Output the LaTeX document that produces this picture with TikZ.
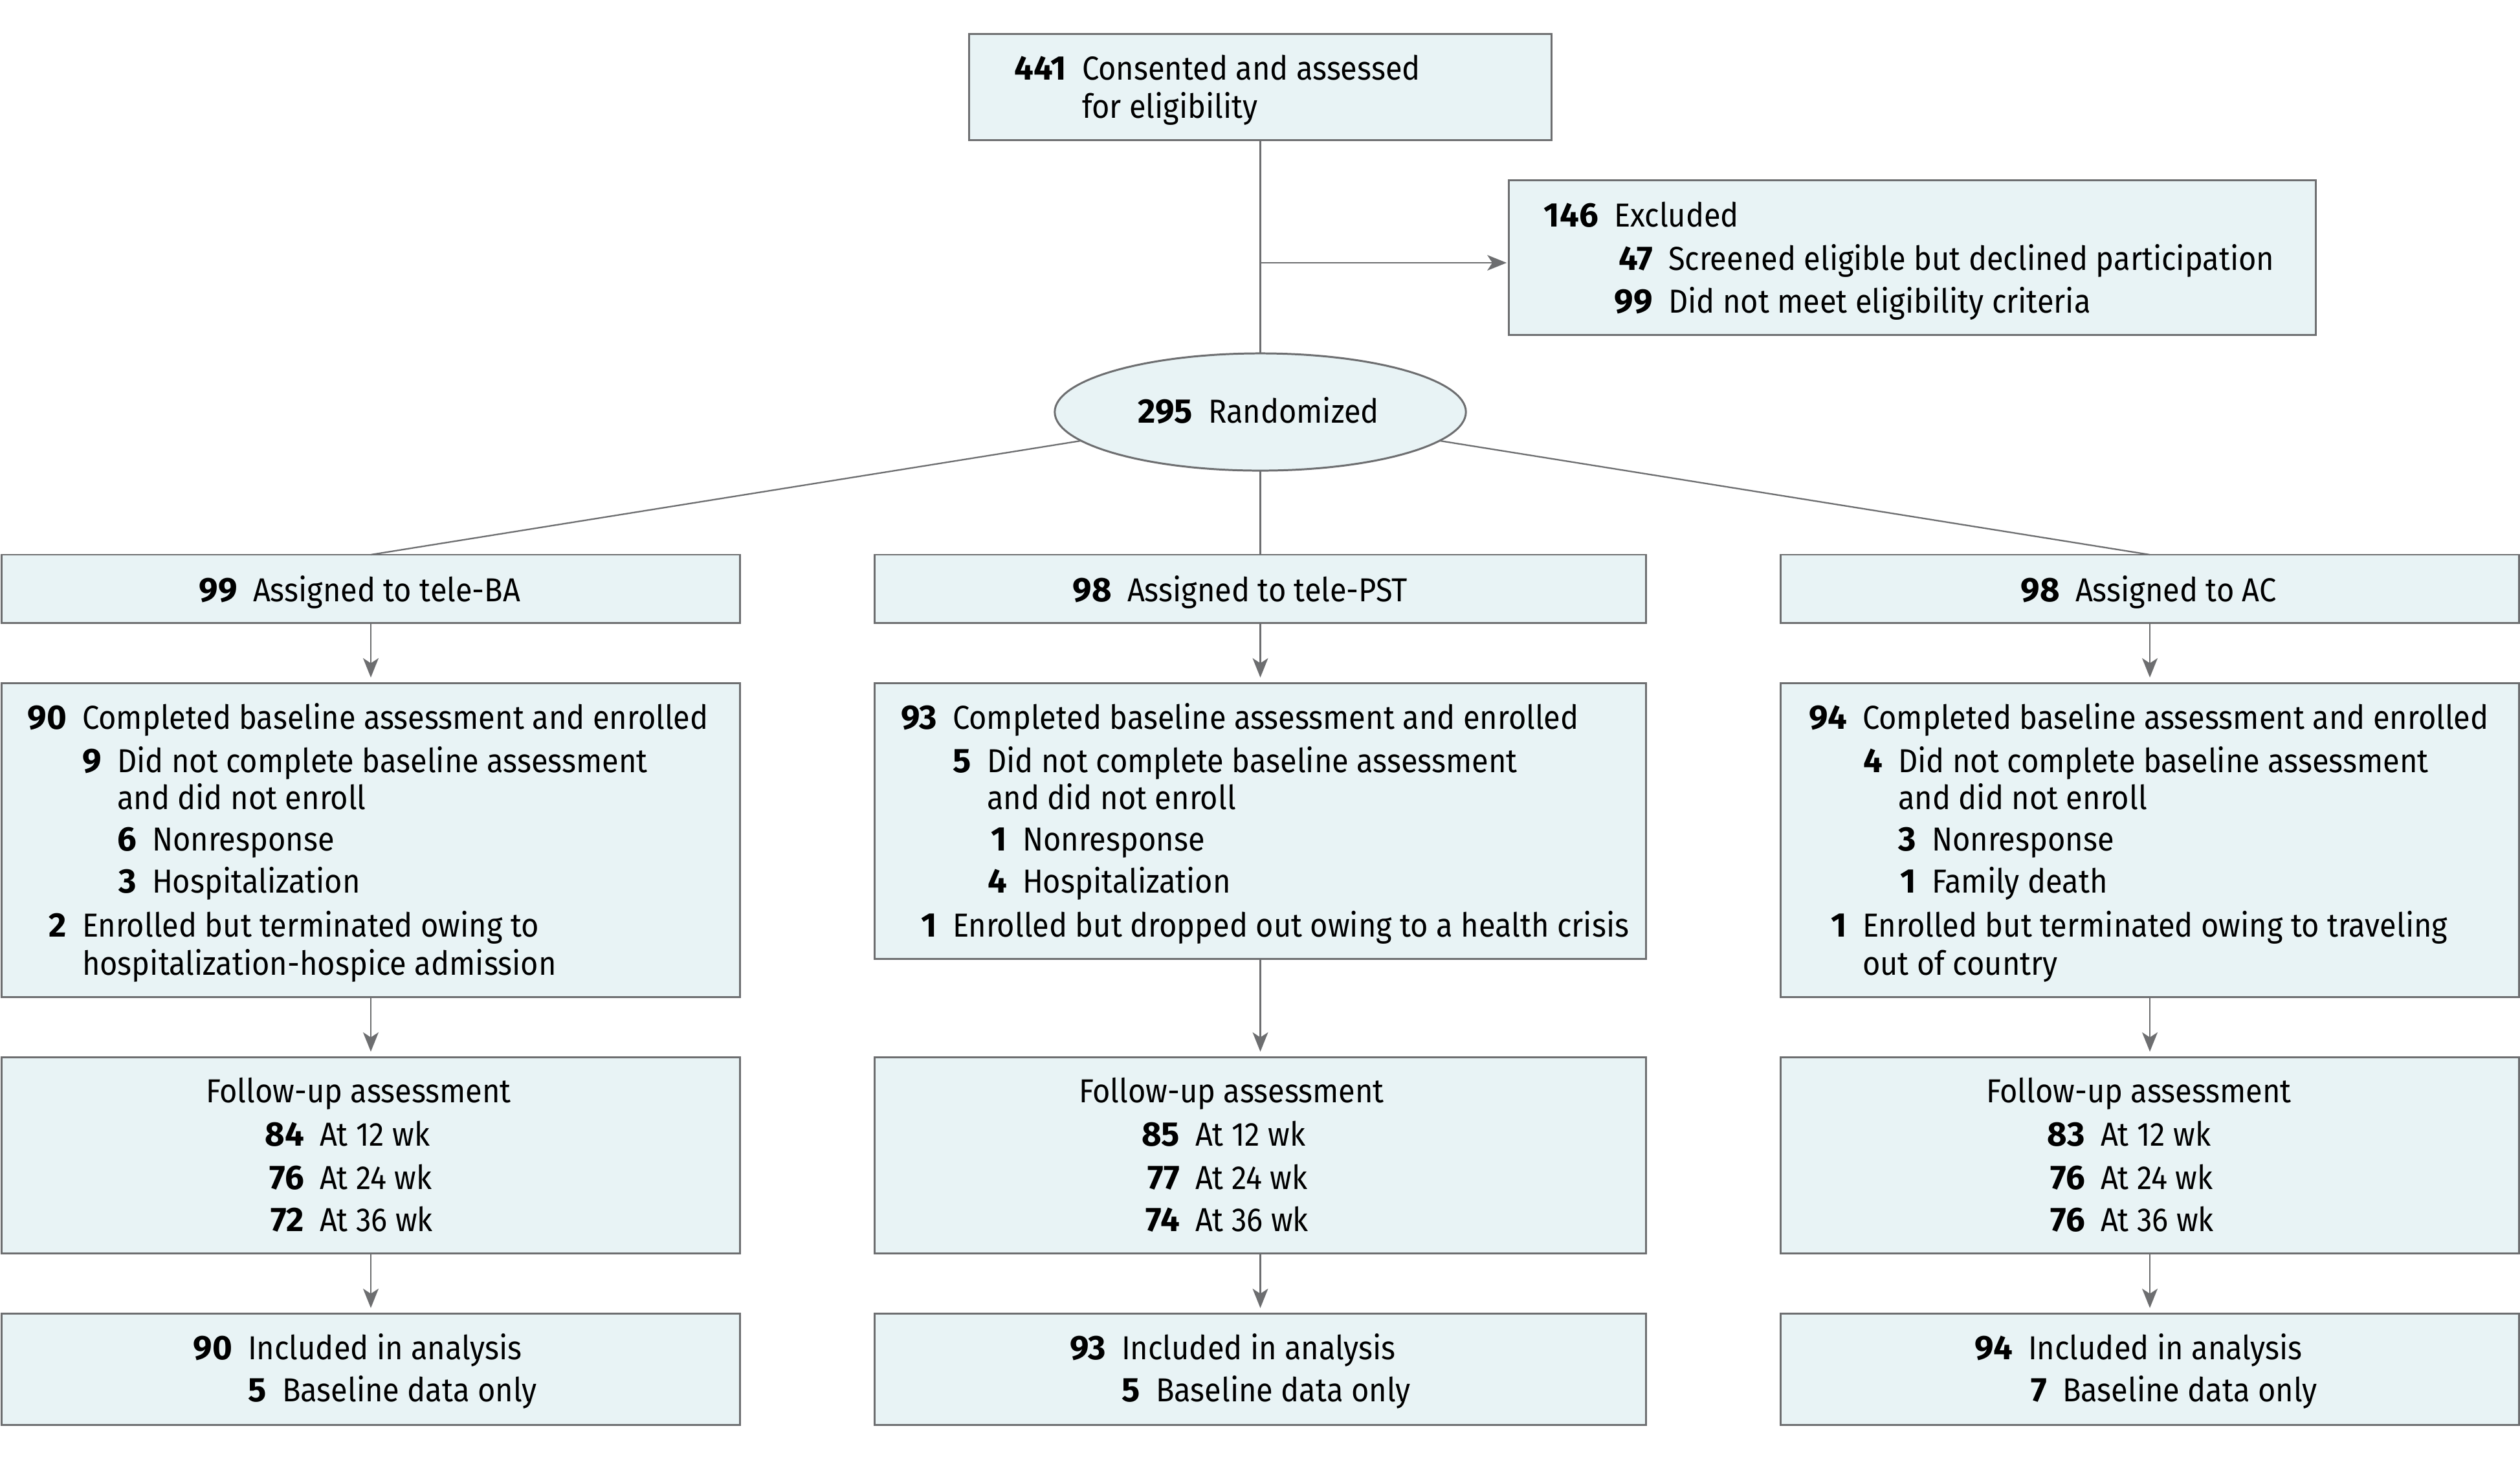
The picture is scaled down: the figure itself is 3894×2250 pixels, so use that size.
\documentclass[tikz,border=0pt]{standalone}
\usepackage{fontspec}
\setmainfont{Fira Sans}[FakeStretch=0.915]
\newfontfamily\numfont{Fira Sans}
\usetikzlibrary{arrows.meta,shapes.geometric}
\definecolor{boxfill}{HTML}{E8F3F5}
\definecolor{edge}{HTML}{6D6E70}
\tikzset{
 bx/.style={draw=edge, fill=boxfill, line width=0.85pt, rectangle, inner sep=0pt, outer sep=0pt},
 ell/.style={draw=edge, fill=boxfill, line width=0.85pt, ellipse, inner sep=0pt, outer sep=0pt},
 txt/.style={inner sep=0pt, outer sep=0pt, font=\fontsize{14.6}{17}\selectfont, text=black},
 num/.style={inner sep=0pt, outer sep=0pt, font=\numfont\fontsize{15}{17}\selectfont\bfseries, text=black},
 conn/.style={draw=edge, line width=0.65pt},
 arr/.style={conn, -{Stealth[length=8.5pt,width=6.8pt,inset=2.2pt]}, shorten >=2.6pt},
}
\newcommand\numline[5]{%
 \node[txt, anchor=base west] (#1) at (#2,#3) {#5};
 \node[num, anchor=base east] (#1n) at ([xshift=-0.24cm]#1.base west) {#4};}
\newcommand\plainline[4]{\node[txt, anchor=base west] (#1) at (#2,#3) {#4};}
\begin{document}
\begin{tikzpicture}[x=0.01cm, y=-0.01cm]
\fill[white] (0,0) rectangle (3894,2250);
\useasboundingbox (0,0) rectangle (3894,2250);

% ---- boxes ----
\node[bx, minimum width=8.99cm, minimum height=1.63cm] (top) at (1947.5,134.5) {};
\node[bx, minimum width=12.46cm, minimum height=2.38cm] (excl) at (2955,398) {};
\node[ell, minimum width=6.35cm, minimum height=1.81cm] (rand) at (1947.5,636.5) {};

\node[bx, minimum width=11.40cm, minimum height=1.05cm] (aL) at (573,909.5) {};
\node[bx, minimum width=11.91cm, minimum height=1.05cm] (aM) at (1947.5,909.5) {};
\node[bx, minimum width=11.40cm, minimum height=1.05cm] (aR) at (3322,909.5) {};

\node[bx, minimum width=11.40cm, minimum height=4.84cm] (bL) at (573,1298) {};
\node[bx, minimum width=11.91cm, minimum height=4.255cm] (bM) at (1947.5,1268.75) {};
\node[bx, minimum width=11.40cm, minimum height=4.84cm] (bR) at (3322,1298) {};

\node[bx, minimum width=11.40cm, minimum height=3.025cm] (fL) at (573,1785.25) {};
\node[bx, minimum width=11.91cm, minimum height=3.025cm] (fM) at (1947.5,1785.25) {};
\node[bx, minimum width=11.40cm, minimum height=3.025cm] (fR) at (3322,1785.25) {};

\node[bx, minimum width=11.40cm, minimum height=1.71cm] (nL) at (573,2115.5) {};
\node[bx, minimum width=11.91cm, minimum height=1.71cm] (nM) at (1947.5,2115.5) {};
\node[bx, minimum width=11.40cm, minimum height=1.71cm] (nR) at (3322,2115.5) {};

% ---- connectors ----
\coordinate (br) at (1947.5,406);
\draw[conn] (top.south) -- (rand.north);
\draw[arr, shorten >=1pt] (br) -- (br -| excl.west);
\draw[conn] (rand) -- (aL.north);
\draw[conn] (rand.south) -- (aM.north);
\draw[conn] (rand) -- (aR.north);
\foreach \c in {L,M,R}{
  \draw[arr] (a\c.south) -- (b\c.north);
  \draw[arr] (b\c.south) -- (f\c.north);
  \draw[arr] (f\c.south) -- (n\c.north);
}

% ---- text: top ----
\numline{t1}{1672}{123}{441}{Consented and assessed}
\plainline{t2}{1672}{182}{for eligibility}
\numline{e1}{2494}{350}{146}{Excluded}
\numline{e2}{2578}{417}{47}{Screened eligible but declined participation}
\numline{e3}{2578}{483}{99}{Did not meet eligibility criteria}
\numline{r1}{1867}{653}{295}{Randomized}

% ---- left column ----
\numline{aLt}{391}{929}{99}{Assigned to tele-BA}
\numline{bL1}{127}{1126}{90}{Completed baseline assessment and enrolled}
\numline{bL2}{181}{1193}{9}{Did not complete baseline assessment}
\plainline{bL3}{181}{1250}{and did not enroll}
\numline{bL4}{235}{1314}{6}{Nonresponse}
\numline{bL5}{235}{1379}{3}{Hospitalization}
\numline{bL6}{127}{1447}{2}{Enrolled but terminated owing to}
\plainline{bL7}{127}{1506}{hospitalization-hospice admission}
\plainline{fL1}{318}{1703}{Follow-up assessment}
\numline{fL2}{494}{1770}{84}{At 12 wk}
\numline{fL3}{494}{1837}{76}{At 24 wk}
\numline{fL4}{494}{1902}{72}{At 36 wk}
\numline{nL1}{383}{2100}{90}{Included in analysis}
\numline{nL2}{436}{2165}{5}{Baseline data only}

% ---- middle column ----
\numline{aMt}{1742}{929}{98}{Assigned to tele-PST}
\numline{bM1}{1472}{1126}{93}{Completed baseline assessment and enrolled}
\numline{bM2}{1525}{1193}{5}{Did not complete baseline assessment}
\plainline{bM3}{1525}{1250}{and did not enroll}
\numline{bM4}{1580}{1314}{1}{Nonresponse}
\numline{bM5}{1580}{1379}{4}{Hospitalization}
\numline{bM6}{1472}{1447}{1}{Enrolled but dropped out owing to a health crisis}
\plainline{fM1}{1667}{1703}{Follow-up assessment}
\numline{fM2}{1847}{1770}{85}{At 12 wk}
\numline{fM3}{1847}{1837}{77}{At 24 wk}
\numline{fM4}{1847}{1902}{74}{At 36 wk}
\numline{nM1}{1733}{2100}{93}{Included in analysis}
\numline{nM2}{1786}{2165}{5}{Baseline data only}

% ---- right column ----
\numline{aRt}{3207}{929}{98}{Assigned to AC}
\numline{bR1}{2878}{1126}{94}{Completed baseline assessment and enrolled}
\numline{bR2}{2933}{1193}{4}{Did not complete baseline assessment}
\plainline{bR3}{2933}{1250}{and did not enroll}
\numline{bR4}{2985}{1314}{3}{Nonresponse}
\numline{bR5}{2985}{1379}{1}{Family death}
\numline{bR6}{2878}{1447}{1}{Enrolled but terminated owing to traveling}
\plainline{bR7}{2878}{1506}{out of country}
\plainline{fR1}{3069}{1703}{Follow-up assessment}
\numline{fR2}{3246}{1770}{83}{At 12 wk}
\numline{fR3}{3246}{1837}{76}{At 24 wk}
\numline{fR4}{3246}{1902}{76}{At 36 wk}
\numline{nR1}{3134}{2100}{94}{Included in analysis}
\numline{nR2}{3187}{2165}{7}{Baseline data only}
\end{tikzpicture}
\end{document}
